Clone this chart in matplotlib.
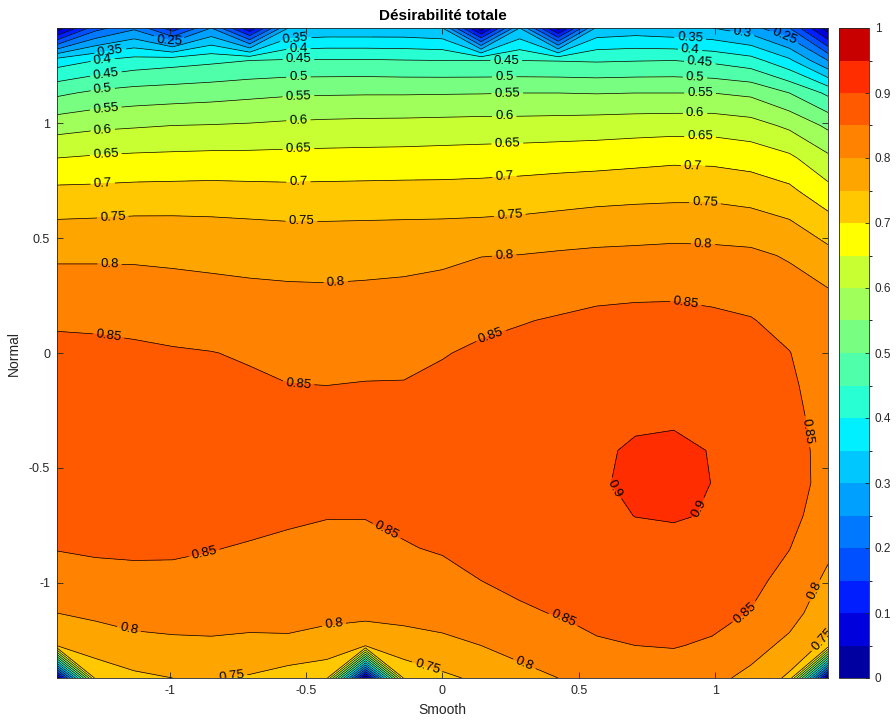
import numpy as np
import matplotlib
matplotlib.use("Agg")
import matplotlib.pyplot as plt
from matplotlib.colors import ListedColormap, BoundaryNorm

plt.rcParams['font.family'] = ['Liberation Sans', 'DejaVu Sans']
plt.rcParams['axes.unicode_minus'] = False

## Data: total desirability on a 21 x 21 grid (rows from Normal = +1.414 down to -1.414)
smooth = np.linspace(-1.414, 1.414, 21)
normal = np.linspace(1.414, -1.414, 21)
desir = [
    [0.02, 0.18, 0.24, 0.12, 0.25, 0.06, 0.30, 0.31, 0.31, 0.31, 0.30, 0.02, 0.30, 0.03, 0.31, 0.32, 0.31, 0.30, 0.27, 0.20, 0.02],
    [0.375, 0.40, 0.42, 0.43, 0.44, 0.45, 0.455, 0.455, 0.455, 0.452, 0.45, 0.45, 0.45, 0.448, 0.445, 0.448, 0.45, 0.44, 0.42, 0.36, 0.25],
    [0.49, 0.51, 0.52, 0.525, 0.53, 0.537, 0.543, 0.545, 0.546, 0.546, 0.547, 0.548, 0.55, 0.55, 0.548, 0.55, 0.55, 0.55, 0.54, 0.50, 0.44],
    [0.58, 0.59, 0.595, 0.60, 0.602, 0.605, 0.61, 0.613, 0.615, 0.616, 0.618, 0.62, 0.62, 0.622, 0.625, 0.628, 0.63, 0.63, 0.62, 0.59, 0.54],
    [0.65, 0.656, 0.66, 0.662, 0.664, 0.664, 0.665, 0.666, 0.667, 0.668, 0.67, 0.672, 0.675, 0.678, 0.68, 0.685, 0.69, 0.688, 0.68, 0.66, 0.61],
    [0.71, 0.711, 0.714, 0.715, 0.716, 0.714, 0.712, 0.713, 0.714, 0.715, 0.715, 0.717, 0.72, 0.725, 0.73, 0.733, 0.735, 0.735, 0.727, 0.71, 0.665],
    [0.755, 0.757, 0.76, 0.76, 0.758, 0.755, 0.752, 0.752, 0.753, 0.754, 0.755, 0.757, 0.76, 0.765, 0.77, 0.773, 0.775, 0.775, 0.77, 0.755, 0.72],
    [0.793, 0.793, 0.793, 0.79, 0.788, 0.784, 0.78, 0.779, 0.781, 0.785, 0.79, 0.799, 0.801, 0.806, 0.81, 0.812, 0.815, 0.813, 0.81, 0.795, 0.765],
    [0.82, 0.82, 0.818, 0.815, 0.81, 0.807, 0.805, 0.804, 0.806, 0.808, 0.813, 0.82, 0.825, 0.835, 0.84, 0.842, 0.843, 0.84, 0.835, 0.818, 0.80],
    [0.845, 0.845, 0.843, 0.838, 0.832, 0.826, 0.82, 0.818, 0.82, 0.826, 0.834, 0.842, 0.848, 0.853, 0.858, 0.86, 0.86, 0.857, 0.852, 0.838, 0.815],
    [0.86, 0.857, 0.855, 0.853, 0.851, 0.846, 0.836, 0.834, 0.837, 0.84, 0.848, 0.856, 0.86, 0.866, 0.872, 0.874, 0.875, 0.873, 0.865, 0.851, 0.825],
    [0.868, 0.866, 0.865, 0.862, 0.86, 0.856, 0.851, 0.85, 0.852, 0.852, 0.858, 0.865, 0.87, 0.877, 0.882, 0.885, 0.887, 0.885, 0.875, 0.856, 0.832],
    [0.873, 0.872, 0.872, 0.87, 0.867, 0.862, 0.858, 0.857, 0.858, 0.86, 0.865, 0.87, 0.875, 0.885, 0.89, 0.8958, 0.897, 0.893, 0.885, 0.86, 0.836],
    [0.875, 0.874, 0.874, 0.873, 0.87, 0.866, 0.862, 0.86, 0.86, 0.863, 0.868, 0.873, 0.878, 0.89, 0.896, 0.9033, 0.905, 0.899, 0.89, 0.864, 0.838],
    [0.872, 0.873, 0.873, 0.873, 0.87, 0.865, 0.861, 0.858, 0.858, 0.862, 0.867, 0.873, 0.878, 0.89, 0.897, 0.905, 0.91, 0.8995, 0.892, 0.865, 0.838],
    [0.866, 0.868, 0.866, 0.865, 0.862, 0.857, 0.853, 0.851, 0.851, 0.856, 0.862, 0.868, 0.875, 0.885, 0.892, 0.9005, 0.904, 0.897, 0.888, 0.86, 0.832],
    [0.852, 0.855, 0.855, 0.854, 0.851, 0.848, 0.846, 0.843, 0.843, 0.848, 0.853, 0.86, 0.87, 0.878, 0.885, 0.89, 0.886, 0.885, 0.878, 0.851, 0.81],
    [0.83, 0.838, 0.842, 0.843, 0.842, 0.836, 0.835, 0.833, 0.832, 0.836, 0.84, 0.85, 0.858, 0.868, 0.875, 0.877, 0.88, 0.875, 0.862, 0.835, 0.79],
    [0.80, 0.81, 0.818, 0.82, 0.82, 0.815, 0.817, 0.812, 0.815, 0.813, 0.816, 0.828, 0.845, 0.852, 0.862, 0.865, 0.868, 0.862, 0.848, 0.815, 0.775],
    [0.755, 0.77, 0.785, 0.79, 0.792, 0.79, 0.79, 0.78, 0.755, 0.78, 0.79, 0.80, 0.815, 0.825, 0.845, 0.85, 0.852, 0.845, 0.815, 0.79, 0.735],
    [0.01, 0.72, 0.74, 0.75, 0.752, 0.745, 0.725, 0.71, 0.0, 0.71, 0.74, 0.76, 0.785, 0.80, 0.815, 0.825, 0.83, 0.81, 0.79, 0.74, 0.01],
]

## Band colours (jet-like, 20 bands of 0.05)
band_colors = [
    '#0000a0', '#0000dc', '#001eff', '#0050ff', '#0078ff', '#00a0ff', '#00c8ff', '#00f0ff',
    '#28ffd2', '#50ffaa', '#78ff82', '#a0ff5a', '#c8ff32', '#ffff00', '#ffc800', '#ffa500',
    '#ff8200', '#ff5a00', '#ff2d00', '#c80000',
]

## Label anchor points (pixel positions on the reference), converted below
label_px = [
    (112, 49), (105, 60), (108, 73), (105, 88), (108, 107), (105, 128), (108, 153), (105, 182),
    (115, 216), (112, 262), (112, 328),
    (297, 37), (300, 48), (300, 60), (300, 77), (300, 97), (300, 120), (300, 148), (300, 182),
    (303, 221), (337, 279), (300, 385),
    (507, 61), (505, 76), (508, 95), (505, 117), (508, 141), (505, 172), (510, 208), (505, 255), (490, 330),
    (690, 40), (690, 52), (700, 61), (695, 76), (700, 93), (695, 113), (700, 137), (693, 165),
    (705, 199), (703, 243), (686, 302),
    (172, 40), (742, 35), (783, 40),
    (815, 430), (745, 612), (560, 625), (388, 530), (207, 556), (612, 490), (692, 505),
    (130, 633), (335, 620), (525, 663), (815, 590), (233, 672), (430, 660), (812, 630),
]

levels = np.round(np.arange(0, 1.0001, 0.05), 2)
Z = np.array(desir)[::-1]
Y = normal[::-1]
X, Yg = np.meshgrid(smooth, Y)

cmap = ListedColormap(band_colors)
norm = BoundaryNorm(levels, cmap.N)

fig = plt.figure(figsize=(8.96, 7.24), dpi=100)
ax = fig.add_axes([57 / 896, 46 / 724, 771 / 896, 650 / 724])
cax = fig.add_axes([839 / 896, 46 / 724, 30 / 896, 650 / 724])

cf = ax.contourf(X, Yg, Z, levels=levels, cmap=cmap, norm=norm)
cl = ax.contour(X, Yg, Z, levels=levels, colors='k', linewidths=0.5)

manual = [((px - 443.5) / 271.5, (353 - py) / 229.0) for px, py in label_px]
ax.clabel(cl, levels=levels, manual=manual, fmt='%g', fontsize=9.5, inline=True, inline_spacing=3)

ax.set_xlim(-1.414, 1.414)
ax.set_ylim(-1.414, 1.414)
ax.set_xticks([-1, -0.5, 0, 0.5, 1])
ax.set_yticks([-1, -0.5, 0, 0.5, 1])
ax.set_xticklabels(['-1', '-0.5', '0', '0.5', '1'])
ax.set_yticklabels(['-1', '-0.5', '0', '0.5', '1'])
ax.tick_params(direction='in', top=True, right=True, length=4, width=0.6,
               labelsize=9, colors='#262626', pad=5)
for sp in ax.spines.values():
    sp.set_color('#262626')
    sp.set_linewidth(0.6)
ax.set_xlabel('Smooth', fontsize=10, color='#262626', labelpad=4)
ax.set_ylabel('Normal', fontsize=10, color='#262626', labelpad=6)
ax.set_title('Désirabilité totale', fontsize=11, fontweight='bold', pad=6)

cb = fig.colorbar(cf, cax=cax, ticks=np.round(np.arange(0, 1.01, 0.1), 1))
cb.ax.set_yticklabels(['0', '0.1', '0.2', '0.3', '0.4', '0.5', '0.6', '0.7', '0.8', '0.9', '1'])
cb.ax.tick_params(direction='in', length=3, width=0.6, labelsize=8.5, colors='#262626', pad=4)
cb.outline.set_edgecolor('#262626')
cb.outline.set_linewidth(0.6)

fig.savefig('out.png', dpi=100)
